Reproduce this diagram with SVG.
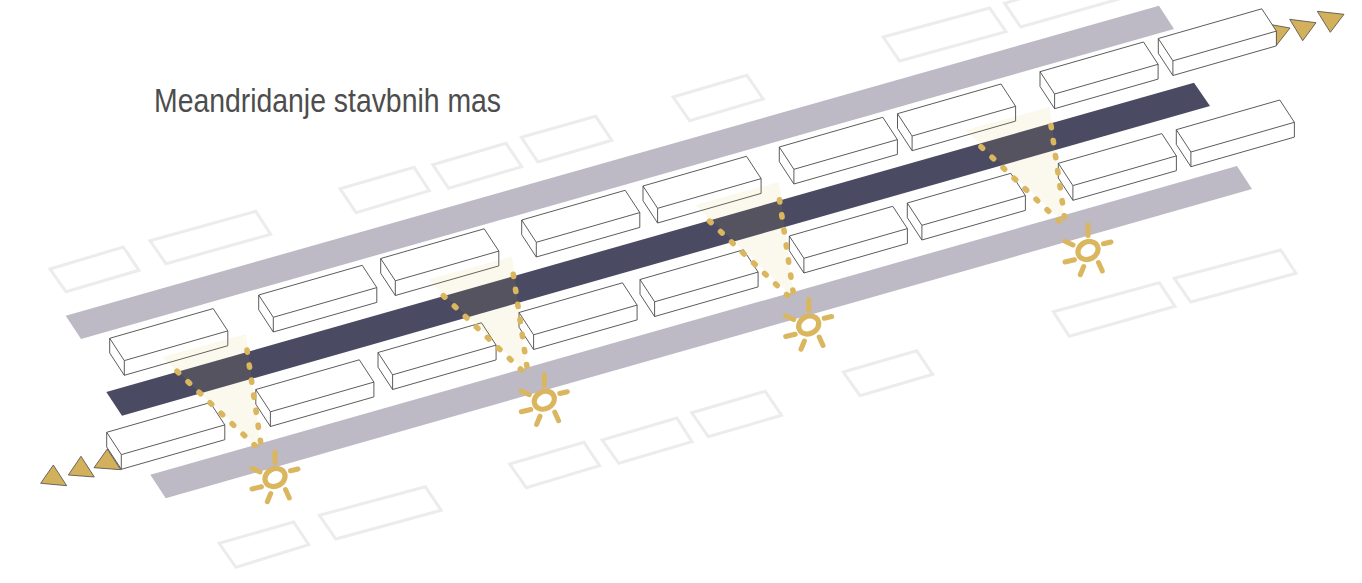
<svg xmlns="http://www.w3.org/2000/svg" xmlns:xlink="http://www.w3.org/1999/xlink" width="1362" height="583" viewBox="0 0 1362 583">
<style>
.plot{fill:none;stroke:#ececec;stroke-width:3}
.side{fill:#bdbac5}
.main{fill:#4a4b63}
.box{fill:#fff;stroke:#4a4a4a;stroke-width:.9;stroke-linejoin:round}
.tri{fill:#d3b05c;stroke:#4a4a4a;stroke-width:.8;stroke-linejoin:round}
.beam{fill:#d4ae3c;fill-opacity:.085}
.dots{fill:none;stroke:#dab65f;stroke-width:5.6;stroke-linecap:round;stroke-dasharray:2.2 13}
.ray{fill:none;stroke:#dab65f;stroke-width:5;stroke-linecap:round}
.ring{fill:none;stroke:#dab65f;stroke-width:5.2}
.title{font-family:"Liberation Sans",Arial,sans-serif;font-size:34px;fill:#4d4d4d}
</style>
<defs>
<g id="box">
<path class="box" d="M0 0L103.5-29.7 118.1-7.4V7.4L14.6 37 0 14.7Z"/>
<path class="box" fill="none" style="fill:none" d="M0 0L14.6 22.3 118.1-7.4M14.6 22.3V37"/>
</g>
<polygon id="lightbeam" class="beam" points="162,357 246,334 261,450"/>
<g id="lightdots">
<path class="dots" d="M177 371.3L255 445.5"/>
<path class="dots" d="M247 350L260.6 442"/>
</g>
<g id="sunshape">
<ellipse class="ring" cx="275" cy="477.5" rx="10.4" ry="8.6" transform="rotate(-28 275 477.5)"/>
<path class="ray" d="M275 452V462.5M290.5 470.8L298 469M285.5 489.5L289.3 498M270.7 493.5L267.3 501.7M252 489L261.5 486.8M252 468.3L260 472"/>
</g>
</defs>
<g id="context-plots">
<polygon class="plot" points="50,269 123.3,247 139,270.3 66,291.7"/>
<polygon class="plot" points="150,240.7 255.7,211.3 270.7,234.3 166,263.7"/>
<polygon class="plot" points="340,188.7 414,167.3 429.3,190.7 356,212.7"/>
<polygon class="plot" points="432.7,164.7 506,143.3 521.7,166.7 448.7,188.3"/>
<polygon class="plot" points="521.4,137.3 595.7,116.3 611.8,140.3 537.9,162"/>
<polygon class="plot" points="673.2,97 746.8,75.3 763.2,99 689.6,120.7"/>
<polygon class="plot" points="883.2,37 989.6,8 1006,31.7 899.6,61"/>
<polygon class="plot" points="1004.6,3.3 1110,-27 1126,-3 1020.7,27"/>
<polygon class="plot" points="219.2,543.3 293.6,522 308.8,544.7 235.9,567.3"/>
<polygon class="plot" points="319.5,515.3 425.3,486.7 441.2,510.3 335.8,539"/>
<polygon class="plot" points="509.7,464 584,442.3 599.6,465.7 526.3,487.7"/>
<polygon class="plot" points="602.2,440 676.9,418 692,441.7 618.8,463.3"/>
<polygon class="plot" points="691.7,412.7 765.3,391.3 781.6,415.3 708.3,436.7"/>
<polygon class="plot" points="843.3,372 916.7,350.7 932.7,374.3 860,395.7"/>
<polygon class="plot" points="1053.3,311.7 1159.3,282.7 1175,306.3 1069.3,336.3"/>
<polygon class="plot" points="1174.3,278.3 1280.7,250 1296,273.3 1190.7,302"/>
</g>
<g id="roads">
<polygon class="side" points="65.7,315.7 1159,5.7 1174,29 81,339"/>
<polygon class="side" points="150.3,474.7 1237,166 1252,189 165.7,498.3"/>
<polygon class="main" points="106.3,392 1194,82.7 1210,106 122,415.7"/>
</g>
<g id="arrow-head-behind">
<polygon class="tri" points="1262,23 1290,28 1276.7,45"/>
</g>
<g id="buildings-north">
<use id="n1" href="#box" x="109.7" y="338.3"/>
<use id="n2" href="#box" x="258.7" y="295"/>
<use id="n3" href="#box" x="380.7" y="258.5"/>
<use id="n4" href="#box" x="521.7" y="220"/>
<use id="n5" href="#box" x="643" y="186"/>
<use id="n6" href="#box" x="779.3" y="147"/>
<use id="n7" href="#box" x="897.5" y="113.7"/>
<use id="n8" href="#box" x="1040" y="71.7"/>
<use id="n9" href="#box" x="1158.3" y="38.5"/>
</g>
<g id="buildings-south">
<use id="s1" href="#box" x="106.7" y="432.3"/>
<use id="s2" href="#box" x="255.8" y="389.5"/>
<use id="s3" href="#box" x="378" y="352.5"/>
<use id="s4" href="#box" x="519" y="312.5"/>
<use id="s5" href="#box" x="640" y="279.5"/>
<use id="s6" href="#box" x="789.3" y="236"/>
<use id="s7" href="#box" x="907.3" y="203"/>
<use id="s8" href="#box" x="1058.3" y="163.3"/>
<use id="s9" href="#box" x="1176.3" y="129.7"/>
</g>
<g id="arrows">
<polygon class="tri" points="53.3,465 40.7,483.3 66.7,485.7"/>
<polygon class="tri" points="81,456.3 68.3,475 94.3,477"/>
<polygon class="tri" points="107.3,449 94,467.7 120.7,469.7"/>
<polygon class="tri" points="1289.7,19.3 1316,22.7 1302.7,40.7"/>
<polygon class="tri" points="1317.3,11.3 1344,14.3 1330.3,32.3"/>
</g>
<g id="light-1"><use href="#lightbeam"/><use href="#lightdots"/><use href="#sunshape"/></g>
<g id="light-2"><use href="#lightbeam" x="266" y="-77.5"/><use href="#lightdots" x="266.3" y="-75.7"/><use href="#sunshape" x="269.3" y="-77.3"/></g>
<g id="light-3"><use href="#lightbeam" x="533" y="-152"/><use href="#lightdots" x="532.5" y="-150.2"/><use href="#sunshape" x="533.7" y="-152.5"/></g>
<g id="light-4"><use href="#lightbeam" x="803.5" y="-227"/><use href="#lightdots" x="804" y="-224.5"/><use href="#sunshape" x="813" y="-227"/></g>
<text class="title" x="154" y="112" textLength="347" lengthAdjust="spacingAndGlyphs">Meandridanje stavbnih mas</text>
</svg>
